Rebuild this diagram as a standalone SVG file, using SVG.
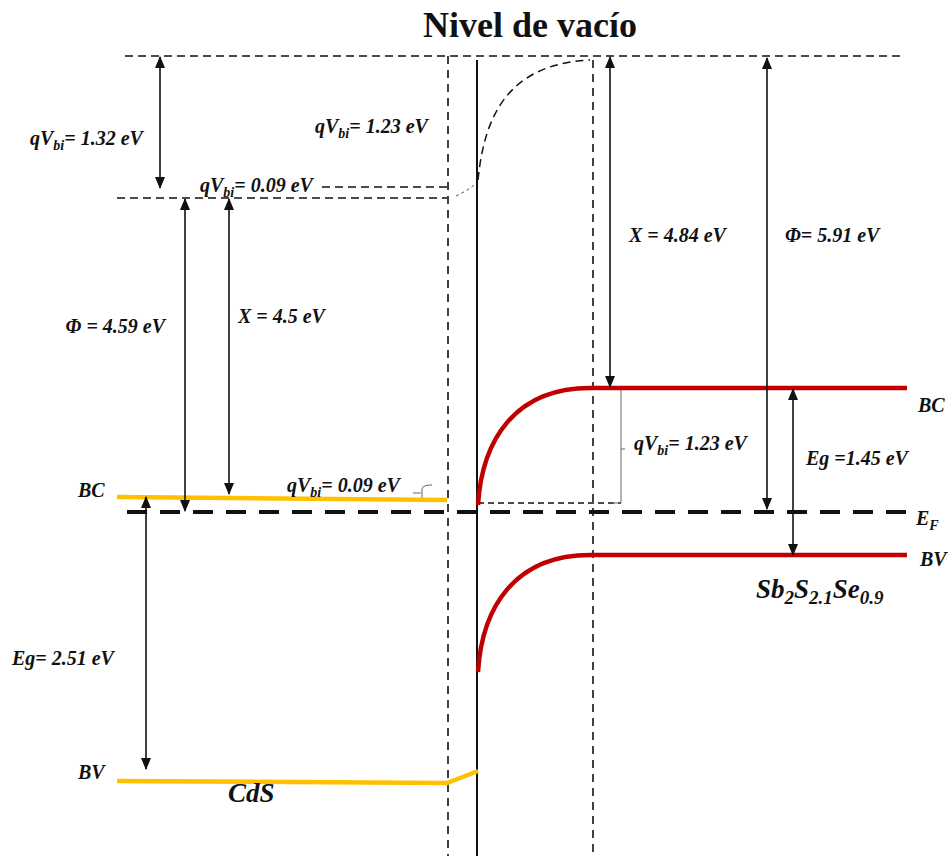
<svg xmlns="http://www.w3.org/2000/svg" width="949" height="856" viewBox="0 0 949 856">
<style>
.t{font-family:"Liberation Serif","Times New Roman",serif;font-weight:bold;font-style:italic;font-size:20px;fill:#111}
.sub{font-size:14px}
.big{font-size:27px}
.bsub{font-size:19px}
.title{font-family:"Liberation Serif","Times New Roman",serif;font-weight:bold;font-size:36px;fill:#111}
.dash{fill:none;stroke:#111;stroke-width:1.5;stroke-dasharray:8,5}
.vdash{fill:none;stroke:#111;stroke-width:1.6;stroke-dasharray:8,6}
.arr{fill:none;stroke:#111;stroke-width:1.6;marker-start:url(#ah);marker-end:url(#ah)}
.cds{fill:none;stroke:#FFC000;stroke-width:4.5;stroke-linecap:butt}
.sb{fill:none;stroke:#C00000;stroke-width:4.5}
.thin{fill:none;stroke:#666;stroke-width:1}
</style>
<defs>
<marker id="ah" viewBox="0 0 12 10" refX="11" refY="5" markerWidth="12" markerHeight="10" markerUnits="userSpaceOnUse" orient="auto-start-reverse">
<path d="M0,0 L12,5 L0,10 Z" fill="#111"/>
</marker>
</defs>
<g id="guides">
<path class="dash" d="M125,56 H902"/>
<path class="dash" d="M322,187 H450"/>
<path class="dash" d="M117,198 H447"/>
<path class="vdash" d="M448,56 V856"/>
<path class="vdash" d="M593,60 V856"/>
<path class="dash" d="M478,180 C484,120 505,64 590,60"/>
<path fill="none" stroke="#555" stroke-width="1" stroke-dasharray="3,3" d="M456,196 C464,192 472,188 477,182"/>
<path fill="none" stroke="#111" stroke-width="2" d="M477,60 V856"/>
<path fill="none" stroke="#111" stroke-width="4" stroke-dasharray="20,13" d="M127,512 H908"/>
<path fill="none" stroke="#111" stroke-width="1.4" stroke-dasharray="6,4" d="M478,503 H621"/>
<path class="thin" d="M615,388 H621 V503 H612 M621,449 H625"/>
<path class="thin" d="M413,493 H421 M432,485 C424,485 422,487 422,490 V493 V497 C422,500 424,501 432,501"/>
</g>
<g id="cds">
<path class="cds" d="M117,497 L447,500"/>
<path class="cds" d="M117,781 L447,783 L478,771"/>
</g>
<g id="sb">
<path class="sb" d="M478,505 C482,440 515,388 590,388 H907"/>
<path class="sb" d="M478,672 C482,607 515,555 590,555 H907"/>
</g>
<g id="connectors">
<path class="arr" stroke="#444" stroke-width="1.2" d="M160,57 V188"/>
<path class="arr" d="M185,199 V511"/>
<path class="arr" d="M229,199 V494"/>
<path class="arr" d="M146,497 V769"/>
<path class="arr" d="M610,57 V387"/>
<path class="arr" d="M767,58 V509"/>
<path class="arr" d="M793,389 V555"/>
</g>
<g id="labels">
<text class="title" x="530" y="37" text-anchor="middle">Nivel de vacío</text>
<text class="t" x="30" y="145">qV<tspan class="sub" dy="5">bi</tspan><tspan dy="-5">= 1.32 eV</tspan></text>
<text class="t" x="315" y="133">qV<tspan class="sub" dy="5">bi</tspan><tspan dy="-5">= 1.23 eV</tspan></text>
<text class="t" x="200" y="192">qV<tspan class="sub" dy="5">bi</tspan><tspan dy="-5">= 0.09 eV</tspan></text>
<text class="t" x="165" y="333" text-anchor="end">Φ = 4.59 eV</text>
<text class="t" x="238" y="323">X = 4.5 eV</text>
<text class="t" x="78" y="497">BC</text>
<text class="t" x="287" y="492">qV<tspan class="sub" dy="5">bi</tspan><tspan dy="-5">= 0.09 eV</tspan></text>
<text class="t" x="12" y="665">Eg= 2.51 eV</text>
<text class="t" x="78" y="779">BV</text>
<text class="t big" x="228" y="802">CdS</text>
<text class="t" x="629" y="242">X = 4.84 eV</text>
<text class="t" x="785" y="242">Φ= 5.91 eV</text>
<text class="t" x="634" y="450">qV<tspan class="sub" dy="5">bi</tspan><tspan dy="-5">= 1.23 eV</tspan></text>
<text class="t" x="806" y="465">Eg =1.45 eV</text>
<text class="t" x="918" y="412">BC</text>
<text class="t" x="916" y="525">E<tspan class="sub" dy="5">F</tspan></text>
<text class="t" x="920" y="566">BV</text>
<text class="t big" x="756" y="598">Sb<tspan class="bsub" dy="6">2</tspan><tspan dy="-6">S</tspan><tspan class="bsub" dy="6">2.1</tspan><tspan dy="-6">Se</tspan><tspan class="bsub" dy="6">0.9</tspan></text>
</g>
</svg>
